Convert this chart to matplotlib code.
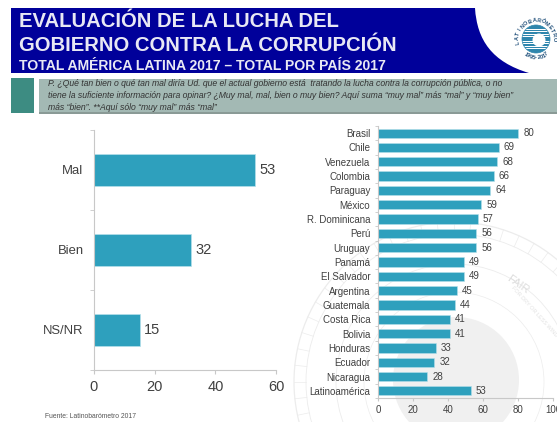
"""Evaluación de la lucha del gobierno contra la corrupción, Latinobarómetro 2017."""

import matplotlib
matplotlib.use("Agg")
import matplotlib.pyplot as plt
import numpy as np
from matplotlib.patches import Circle, PathPatch, Rectangle
from matplotlib.path import Path

W, H = 557, 422

opinion_labels = ["Mal", "Bien", "NS/NR"]
opinion_values = [53, 32, 15]
opinion_ticks = [0, 20, 40, 60]

countries = [
    "Brasil", "Chile", "Venezuela", "Colombia", "Paraguay", "México",
    "R. Dominicana", "Perú", "Uruguay", "Panamá", "El Salvador", "Argentina",
    "Guatemala", "Costa Rica", "Bolivia", "Honduras", "Ecuador", "Nicaragua",
    "Latinoamérica",
]
country_values = [80, 69, 68, 66, 64, 59, 57, 56, 56, 49, 49, 45, 44, 41, 41, 33, 32, 28, 53]
country_ticks = [0, 20, 40, 60, 80, 100]

question = (
    "P. ¿Qué tan bien o qué tan mal diría Ud. que el actual gobierno está  tratando la lucha contra la corrupción pública, o no\n"
    "tiene la suficiente información para opinar? ¿Muy mal, mal, bien o muy bien? Aquí suma “muy mal” más “mal” y “muy bien”\n"
    "más “bien”. **Aquí sólo “muy mal” más “mal”"
)

BAR = "#2ea0bd"
AXIS = "#c8c8c8"
TEXT = "#404040"
WATERMARK = "#ececec"

plt.rcParams["font.family"] = ["Liberation Sans", "DejaVu Sans"]

fig = plt.figure(figsize=(W / 100, H / 100), dpi=100, facecolor="white")


def px_axes(x0, y0, x1, y1):
    """Axes from pixel box, y measured from the top of the picture."""
    return fig.add_axes([x0 / W, 1 - y1 / H, (x1 - x0) / W, (y1 - y0) / H])


def ring_text(ax, s, cx, cy, r, start, end, flip=False, **kw):
    """Put s letter by letter on a circle, angles in degrees clockwise from north."""
    for ch, a in zip(s, np.linspace(start, end, len(s))):
        t = np.radians(a)
        rot = 180 - a if flip else -a
        ax.text(cx + r * np.sin(t), cy - r * np.cos(t), ch, rotation=rot,
                ha="center", va="center", **kw)


# background layer in pixel coordinates
bg = fig.add_axes([0, 0, 1, 1])
bg.set_xlim(0, W)
bg.set_ylim(H, 0)
bg.axis("off")

# faint watermark behind the right chart
wm_x, wm_y = 454, 382
for r, lw in [(160, 0.9), (148, 0.6), (118, 0.6), (90, 0.5)]:
    bg.add_patch(Circle((wm_x, wm_y), r, fill=False, ec=WATERMARK, lw=lw))
for a in np.arange(0, 360, 6):
    t = np.radians(a)
    bg.plot([wm_x + 148 * np.cos(t), wm_x + 160 * np.cos(t)],
            [wm_y + 148 * np.sin(t), wm_y + 160 * np.sin(t)], color=WATERMARK, lw=0.5)
bg.add_patch(Circle((456, 380), 63, fc="#f0f0f0", ec="none"))
bg.text(518, 285, "FAIR", color="#dddddd", fontsize=8, rotation=-35, ha="center", va="center")
bg.text(534, 312, "FOR DRY OR LESS WIND", color="#e2e2e2", fontsize=4, rotation=-48, ha="center", va="center")

# header band with its curved right end
verts = [(11, 8), (475, 8), (477, 40), (492, 62), (529, 73), (11, 73), (11, 8)]
codes = [Path.MOVETO, Path.LINETO, Path.CURVE4, Path.CURVE4, Path.CURVE4, Path.LINETO, Path.CLOSEPOLY]
bg.add_patch(PathPatch(Path(verts, codes), fc="#00009a", ec="none"))
bg.text(19, 27, "EVALUACIÓN DE LA LUCHA DEL", color="#e8e8f4", fontsize=14.6, fontweight="bold", va="baseline")
bg.text(19, 51, "GOBIERNO CONTRA LA CORRUPCIÓN", color="#e8e8f4", fontsize=14.6, fontweight="bold", va="baseline")
bg.text(19, 70, "TOTAL AMÉRICA LATINA 2017 – TOTAL POR PAÍS 2017", color="#e8e8f4", fontsize=10.1, fontweight="bold", va="baseline")

# question strip
bg.add_patch(Rectangle((11, 78), 23, 35, fc="#3d8c82", ec="none"))
bg.add_patch(Rectangle((39, 79), 518, 34, fc="#a3b9b4", ec="none"))
bg.add_patch(Rectangle((39, 112), 518, 1.5, fc="#8a9a96", ec="none"))
bg.text(48, 95.5, question, color="#333333", fontsize=6.2, style="italic", va="center", linespacing=1.37)

# logo, approximated with stripes inside a lettered ring
logo_x, logo_y = 536, 39
disc = Circle((logo_x, logo_y), 14, transform=bg.transData)
for i, y in enumerate(np.arange(logo_y - 14, logo_y + 14, 2.4)):
    stripe = Rectangle((logo_x - 14, y), 28, 1.5, fc="#2f86ad", ec="none")
    bg.add_patch(stripe)
    stripe.set_clip_path(disc)
bg.add_patch(Circle((logo_x + 3, logo_y + 1), 6.5, fc="white", ec="none"))
bg.add_patch(Circle((logo_x, logo_y), 14, fill=False, ec="#2f86ad", lw=0.5))
ring_text(bg, "LATINOBARÓMETRO", logo_x, logo_y, 18.5, -100, 90, fontsize=4, color="#23527c", fontweight="bold")
ring_text(bg, "1995-2017", logo_x, logo_y, 18.5, 215, 145, flip=True, fontsize=4, color="#23527c", fontweight="bold")

bg.text(45, 417, "Fuente: Latinobarómetro 2017", color="#555555", fontsize=4.9, va="center")

# left chart
ax1 = px_axes(94, 130, 276, 370)
ax1.patch.set_alpha(0)
ax1.barh(opinion_labels, opinion_values, height=0.4, color=BAR, edgecolor="#b5e0ea", linewidth=0.5)
ax1.set_xlim(0, 60)
ax1.set_ylim(2.5, -0.5)
ax1.set_xticks(opinion_ticks)
ax1.set_yticks([-0.5, 0.5, 1.5, 2.5], minor=True)
ax1.tick_params(axis="y", which="major", length=0, pad=7.5, labelsize=9.4, labelcolor=TEXT)
ax1.tick_params(axis="y", which="minor", length=3, color=AXIS)
ax1.tick_params(axis="x", length=3, color=AXIS, labelsize=10.5, labelcolor=TEXT, pad=4)
for y, v in enumerate(opinion_values):
    ax1.text(v + 1.5, y, str(v), va="center", fontsize=10.5, color=TEXT)

# right chart, the 100 tick label runs off the edge as in the source slide
ax2 = px_axes(378, 126, 553, 398)
ax2.patch.set_alpha(0)
ax2.barh(countries, country_values, height=0.65, color=BAR, edgecolor="#b5e0ea", linewidth=0.4)
ax2.set_xlim(0, 100)
ax2.set_ylim(len(countries) - 0.5, -0.5)
ax2.set_xticks(country_ticks)
ax2.set_yticks([i - 0.5 for i in range(len(countries) + 1)], minor=True)
ax2.tick_params(axis="y", which="major", length=0, pad=5.5, labelsize=7, labelcolor=TEXT)
ax2.tick_params(axis="y", which="minor", length=2, color=AXIS)
ax2.tick_params(axis="x", length=2, color=AXIS, labelsize=7, labelcolor=TEXT, pad=3)
for y, v in enumerate(country_values):
    ax2.text(v + 3, y, str(v), va="center", fontsize=7, color=TEXT)

for ax in (ax1, ax2):
    ax.spines["top"].set_visible(False)
    ax.spines["right"].set_visible(False)
    ax.spines["left"].set_color(AXIS)
    ax.spines["bottom"].set_color(AXIS)

fig.savefig("out.png", dpi=100)
plt.close(fig)
